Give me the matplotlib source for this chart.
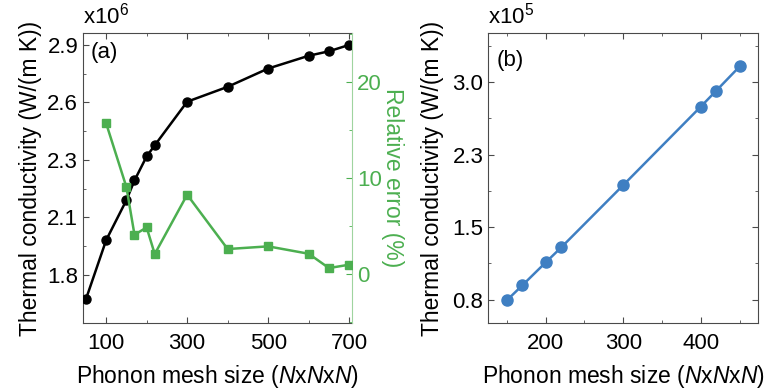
import matplotlib
matplotlib.use("Agg")
import matplotlib.pyplot as plt
from matplotlib.ticker import FixedLocator, FormatStrFormatter, MultipleLocator

plt.rcParams['font.family'] = ['Liberation Sans', 'DejaVu Sans']
plt.rcParams['mathtext.fontset'] = 'custom'
plt.rcParams['mathtext.rm'] = 'Liberation Sans'
plt.rcParams['mathtext.it'] = 'Liberation Sans:italic'

## panel (a) data
mesh_a = [50, 100, 150, 170, 200, 220, 300, 400, 500, 600, 650, 700]
kappa_a = [1.684, 1.962, 2.150, 2.243, 2.356, 2.408, 2.613, 2.683, 2.769, 2.829, 2.850, 2.880]
mesh_err = [100, 150, 170, 200, 220, 300, 400, 500, 600, 650, 700]
rel_err = [15.7, 9.06, 4.09, 4.85, 2.08, 8.26, 2.6, 2.88, 2.11, 0.62, 0.97]

## panel (b) data
mesh_b = [150, 170, 200, 220, 300, 400, 420, 450]
kappa_b = [0.793, 0.944, 1.174, 1.325, 1.953, 2.744, 2.905, 3.148]

black = 'black'
green = '#4caf50'
blue = '#3f7fc2'
spine = '#4a4a4a'
fs_tick = 16
fs_lab = 16.5

fig = plt.figure(figsize=(7.79, 3.89), dpi=100)
ax1 = fig.add_axes([0.1066, 0.1697, 0.3453, 0.7455])
ax2 = fig.add_axes([0.6268, 0.1697, 0.3466, 0.7455])

# ---- (a)
ax1.plot(mesh_a, kappa_a, '-o', color=black, lw=1.8, ms=6.5, zorder=3)
ax1.set_xlim(43, 707)
ax1.set_ylim(1.573, 2.936)
ax1.xaxis.set_major_locator(FixedLocator([100, 300, 500, 700]))
ax1.xaxis.set_minor_locator(FixedLocator([200, 400, 600]))
ticks_a = [1.8 + 0.27 * i for i in range(5)]
ax1.yaxis.set_major_locator(FixedLocator(ticks_a))
ax1.yaxis.set_minor_locator(FixedLocator([t + 0.135 for t in [1.53] + ticks_a]))
ax1.yaxis.set_major_formatter(FormatStrFormatter('%.1f'))
ax1.tick_params(axis='both', which='both', direction='in', top=True, labelsize=fs_tick, colors='black')
ax1.tick_params(axis='x', pad=7)
ax1.tick_params(which='major', length=4, color=spine)
ax1.tick_params(which='minor', length=2, color=spine)
ax1.set_xlabel(r'Phonon mesh size ($N$x$N$x$N$)', fontsize=fs_lab, labelpad=7)
ax1.set_ylabel('Thermal conductivity (W/(m K))', fontsize=fs_lab, labelpad=4)
ax1.text(0.0, 1.015, r'x10$^6$', transform=ax1.transAxes, fontsize=fs_tick, va='bottom', ha='left')
ax1.text(0.03, 0.97, '(a)', transform=ax1.transAxes, fontsize=fs_tick, va='top', ha='left')
for s in ['left', 'bottom', 'top']:
    ax1.spines[s].set_color(spine)
ax1.spines['right'].set_visible(False)

ax1r = ax1.twinx()
ax1r.plot(mesh_err, rel_err, '-s', color=green, lw=1.8, ms=6, zorder=3)
ax1r.set_ylim(-5.1, 25.1)
ax1r.yaxis.set_major_locator(MultipleLocator(10))
ax1r.yaxis.set_minor_locator(MultipleLocator(5))
ax1r.tick_params(axis='y', which='both', direction='in', labelsize=fs_tick, colors=green)
ax1r.tick_params(which='major', length=4)
ax1r.tick_params(which='minor', length=2)
ax1r.set_ylabel('Relative error (%)', fontsize=fs_lab, color=green, rotation=270, labelpad=16)
for s in ['left', 'bottom', 'top']:
    ax1r.spines[s].set_visible(False)
ax1r.spines['right'].set_color('#9fd49f')

# ---- (b)
ax2.plot(mesh_b, kappa_b, '-o', color=blue, lw=1.8, ms=8, zorder=3)
ax2.set_xlim(126, 474)
ax2.set_ylim(0.564, 3.485)
ax2.xaxis.set_major_locator(FixedLocator([200, 300, 400]))
ax2.xaxis.set_minor_locator(FixedLocator([150, 250, 350, 450]))
ticks_b = [0.8 + 0.73 * i for i in range(4)]
ax2.yaxis.set_major_locator(FixedLocator(ticks_b))
ax2.yaxis.set_minor_locator(FixedLocator([t + 0.365 for t in ticks_b]))
ax2.yaxis.set_major_formatter(FormatStrFormatter('%.1f'))
ax2.tick_params(axis='both', which='both', direction='in', top=True, right=True, labelsize=fs_tick, colors='black')
ax2.tick_params(axis='x', pad=7)
ax2.tick_params(which='major', length=4, color=spine)
ax2.tick_params(which='minor', length=2, color=spine)
ax2.set_xlabel(r'Phonon mesh size ($N$x$N$x$N$)', fontsize=fs_lab, labelpad=7)
ax2.set_ylabel('Thermal conductivity (W/(m K))', fontsize=fs_lab, labelpad=6)
ax2.text(0.0, 1.015, r'x10$^5$', transform=ax2.transAxes, fontsize=fs_tick, va='bottom', ha='left')
ax2.text(0.03, 0.94, '(b)', transform=ax2.transAxes, fontsize=fs_tick, va='top', ha='left')
for s in ax2.spines.values():
    s.set_color(spine)

fig.savefig('out.png', dpi=100)
